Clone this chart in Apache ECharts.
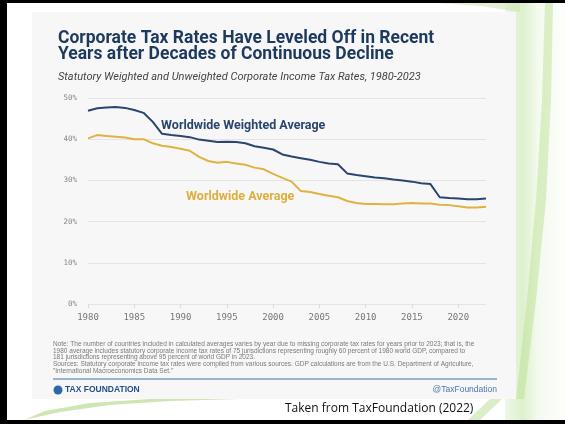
<!DOCTYPE html>
<html>
<head>
<meta charset="utf-8">
<script src="https://cdn.jsdelivr.net/npm/echarts@6/dist/echarts.min.js"></script>
<style>
  html, body { margin: 0; padding: 0; background: #000; }
  #chart { width: 565px; height: 424px; }
</style>
</head>
<body>
<div id="chart"></div>
<script>
// Statutory corporate income tax rates (%), 1980-2023
const years = [
  1980, 1981, 1982, 1983, 1984, 1985, 1986, 1987, 1988, 1989,
  1990, 1991, 1992, 1993, 1994, 1995, 1996, 1997, 1998, 1999,
  2000, 2001, 2002, 2003, 2004, 2005, 2006, 2007, 2008, 2009,
  2010, 2011, 2012, 2013, 2014, 2015, 2016, 2017, 2018, 2019,
  2020, 2021, 2022, 2023
];
const weightedAvg = [
  46.9, 47.5, 47.7, 47.8, 47.6, 47.1, 46.4, 44.2, 41.3, 41.0,
  40.8, 40.5, 39.9, 39.6, 39.3, 39.4, 39.3, 39.0, 38.3, 37.9,
  37.5, 36.3, 35.8, 35.4, 35.0, 34.5, 34.1, 33.9, 31.7, 31.3,
  31.0, 30.7, 30.5, 30.2, 30.0, 29.7, 29.3, 29.1, 25.9, 25.7,
  25.6, 25.4, 25.4, 25.6
];
const worldwideAvg = [
  40.2, 41.0, 40.8, 40.6, 40.4, 40.0, 40.0, 39.0, 38.4, 38.1,
  37.7, 37.2, 35.7, 34.7, 34.3, 34.5, 34.1, 33.8, 33.1, 32.7,
  31.6, 30.6, 29.7, 27.4, 27.2, 26.7, 26.3, 25.9, 25.0, 24.5,
  24.3, 24.3, 24.2, 24.2, 24.4, 24.5, 24.4, 24.4, 24.1, 24.0,
  23.7, 23.4, 23.4, 23.6
];
const xTicks = [1980, 1985, 1990, 1995, 2000, 2005, 2010, 2015, 2020];
const yTicks = [0, 10, 20, 30, 40, 50];

const titleText = 'Corporate Tax Rates Have Leveled Off in Recent\nYears after Decades of Continuous Decline';
const subtitleText = 'Statutory Weighted and Unweighted Corporate Income Tax Rates, 1980-2023';
const noteLines = [
  'Note: The number of countries included in calculated averages varies by year due to missing corporate tax rates for years prior to 2023; that is, the',
  '1980 average includes statutory corporate income tax rates of 75 jurisdictions representing roughly 60 percent of 1980 world GDP, compared to',
  '181 jurisdictions representing above 95 percent of world GDP in 2023.',
  'Sources: Statutory corporate income tax rates were compiled from various sources. GDP calculations are from the U.S. Department of Agriculture,',
  '"International Macroeconomics Data Set."'
];

const BLUE = '#2a4670';
const GOLD = '#e0b240';

const chart = echarts.init(document.getElementById('chart'), null, { renderer: 'canvas' });

const pairs = vals => years.map((y, i) => [y, vals[i]]);

chart.setOption({
  backgroundColor: '#000000',
  animation: false,
  graphic: [
    // slide background
    { type: 'rect', z: -10, shape: { x: 7, y: 3, width: 558, height: 417 },
      style: { fill: '#ffffff' } },
    // pale green wash on the right edge
    { type: 'rect', z: -9, shape: { x: 505, y: 3, width: 60, height: 417 },
      style: { fill: new echarts.graphic.LinearGradient(0, 0, 1, 0, [
        { offset: 0, color: 'rgba(238,247,232,1)' },
        { offset: 0.3, color: 'rgba(222,240,205,1)' },
        { offset: 0.55, color: 'rgba(244,250,240,1)' },
        { offset: 1, color: 'rgba(252,254,250,1)' }
      ]) } },
    // curved green streak
    { type: 'polygon', z: -8,
      shape: { points: [[545, 3], [542, 100], [536, 200], [527, 300], [516, 399], [524, 399], [536, 300], [546, 200], [551, 100], [553, 3]] },
      style: { fill: 'rgba(185,222,140,0.45)' } },
    { type: 'polygon', z: -8,
      shape: { points: [[440, 3], [480, 6], [520, 12], [520, 3]] },
      style: { fill: 'rgba(205,230,180,0.6)' } },
    // swoosh across the bottom-left
    { type: 'polygon', z: -8,
      shape: { points: [[24, 420], [60, 412], [110, 405], [170, 401], [240, 399], [150, 399], [90, 403], [45, 411]] },
      style: { fill: 'rgba(165,208,118,0.55)' } },
    { type: 'polygon', z: -8,
      shape: { points: [[468, 420], [490, 399], [502, 399], [480, 420]] },
      style: { fill: 'rgba(195,225,165,0.6)' } },
    // chart card
    { type: 'rect', z: -5, shape: { x: 32, y: 12, width: 484, height: 387 },
      style: { fill: '#f7f7f7' } },
    // note and sources
    { type: 'text', left: 53, top: 341, z: 5,
      style: { text: noteLines.join('\n'), fill: '#7a7a7a', font: '6.5px "Liberation Sans", Arial, sans-serif', lineHeight: 6.6 } },
    // footer rule
    { type: 'line', z: 5, shape: { x1: 53, y1: 379, x2: 497, y2: 379 },
      style: { stroke: '#3d6ea5', lineWidth: 1 } },
    // footer logo
    { type: 'circle', z: 5, shape: { cx: 58, cy: 390, r: 4.5 }, style: { fill: '#2f67a8' } },
    { type: 'text', left: 65, top: 385, z: 5,
      style: { text: 'TAX FOUNDATION', fill: '#24508a', font: 'bold 8.5px "Liberation Sans", Arial, sans-serif' } },
    { type: 'text', right: 68, top: 385, z: 5,
      style: { text: '@TaxFoundation', fill: '#4a78b0', font: '8.5px "Liberation Sans", Arial, sans-serif', textAlign: 'right' } },
    // caption under the card
    { type: 'text', left: 285, top: 403, z: 5,
      style: { text: 'Taken from TaxFoundation (2022)', fill: '#111111', font: '12px "Open Sans", "Liberation Sans", sans-serif' } }
  ],
  title: [
    { text: titleText, left: 53, top: 26,
      textStyle: { color: '#1c3a5e', fontSize: 17.5, fontWeight: 'bold', fontFamily: 'Roboto', lineHeight: 16 } },
    { text: subtitleText, left: 53, top: 67,
      textStyle: { color: '#444444', fontSize: 11, fontWeight: 'normal', fontStyle: 'italic', fontFamily: 'Roboto' } }
  ],
  grid: { left: 88, right: 79, top: 98, bottom: 120, containLabel: false },
  xAxis: {
    type: 'value', min: 1980, max: 2023, interval: 5,
    axisLine: { show: false },
    axisTick: { show: true, length: 4, lineStyle: { color: '#dcdcdc' }, customValues: xTicks },
    axisLabel: { color: '#777777', fontSize: 9, fontFamily: '"DejaVu Sans Mono", monospace', margin: 9,
      customValues: xTicks, formatter: v => String(v) },
    splitLine: { show: false }
  },
  yAxis: {
    type: 'value', min: 0, max: 50, interval: 10,
    axisLine: { show: false }, axisTick: { show: false },
    axisLabel: { color: '#888888', fontSize: 7.5, fontFamily: '"DejaVu Sans Mono", monospace', margin: 11,
      customValues: yTicks, formatter: v => v + '%' },
    splitLine: { lineStyle: { color: '#e4e4e4', width: 1 } }
  },
  series: [
    { name: 'Worldwide Weighted Average', type: 'line', data: pairs(weightedAvg),
      showSymbol: false, lineStyle: { color: BLUE, width: 2 }, itemStyle: { color: BLUE } },
    { name: 'Worldwide Average', type: 'line', data: pairs(worldwideAvg),
      showSymbol: false, lineStyle: { color: GOLD, width: 2 }, itemStyle: { color: GOLD } }
  ]
});

// series captions placed in data coordinates next to each line
const capA = chart.convertToPixel({ gridIndex: 0 }, [1987.9, 43.2]);
const capB = chart.convertToPixel({ gridIndex: 0 }, [1990.6, 26.0]);
chart.setOption({
  graphic: [
    { id: 'capWeighted', type: 'text', z: 10, x: capA[0], y: capA[1],
      style: { text: 'Worldwide Weighted Average', fill: '#2a4670', font: 'bold 12.5px Roboto, sans-serif', verticalAlign: 'middle' } },
    { id: 'capAverage', type: 'text', z: 10, x: capB[0], y: capB[1],
      style: { text: 'Worldwide Average', fill: '#dfae3c', font: 'bold 12.5px Roboto, sans-serif', verticalAlign: 'middle' } }
  ]
});
</script>
</body>
</html>
